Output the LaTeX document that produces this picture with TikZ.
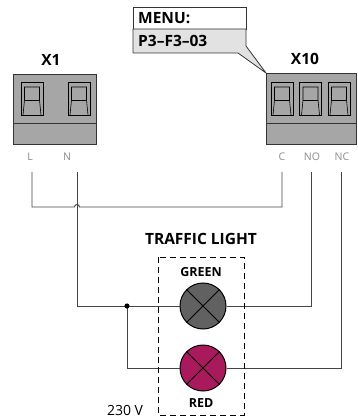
\documentclass[tikz,border=0pt]{standalone}
\usepackage{fontspec}
\setmainfont{Open Sans}
\definecolor{blockgray}{HTML}{A6A6A6}
\definecolor{wire}{HTML}{454545}
\definecolor{lampgray}{HTML}{616161}
\definecolor{lampred}{HTML}{A91A5C}
\definecolor{menugray}{HTML}{E2E2E2}
\definecolor{lbl}{HTML}{8A8A8A}
\tikzset{
  wireline/.style={draw=wire, line width=0.9pt},
  blockbox/.style={draw=black!80, fill=blockgray, line width=0.8pt},
  termbox/.style={draw=black, line width=0.8pt},
  lamp/.style={circle, draw=black, line width=1pt, minimum size=46pt, inner sep=0pt},
  head/.style={font=\bfseries\fontsize{15.5}{18}\selectfont, inner sep=0pt},
  small/.style={font=\bfseries\fontsize{12.5}{14}\selectfont, inner sep=0pt},
  pin/.style={font=\fontsize{10.5}{12}\selectfont, text=lbl, inner sep=0pt},
}
\newcommand{\myterm}[1]{%
  \draw[termbox] (#1,82) rectangle ++(22,33);
  \draw[black, line width=0.6pt] (#1+2,115) -- (#1+3.5,100) -- (#1+3.5,87) -- (#1+18.5,87) -- (#1+18.5,100) -- (#1+20,115);
  \draw[black, line width=0.6pt] (#1+3.5,100) -- (#1+18.5,100);
}
\begin{document}
\begin{tikzpicture}[x=1pt,y=-1pt]
\useasboundingbox (0,0) rectangle (357,419);
% X1 block
\draw[blockbox] (13,74) rectangle (96,144);
\draw[blockbox] (13,123) -- (96,123);
\myterm{21}
\myterm{68}
\node[head] (x1) at (51,60) {X1};
% X10 block
\draw[blockbox] (266,73) rectangle (356,144);
\draw[blockbox] (266,123) -- (356,123);
\myterm{271}
\myterm{299.5}
\myterm{328}
\node[head] (x10) at (305,59) {X10};
% menu
\draw[black!80, fill=white, line width=0.8pt] (133,7) rectangle (246,29);
\draw[black!80, fill=menugray, line width=0.8pt, line join=round] (133,29) -- (246,29) -- (246,46) -- (266,73) -- (238,53) -- (133,53) -- cycle;
\node[head, anchor=west] (menu) at (138,18) {MENU:};
\node[head, anchor=west] (code) at (138,41) {P3–F3–03};
% pin labels
\node[pin] (pL) at (30,157) {L};
\node[pin] (pN) at (67,157) {N};
\node[pin] (pC) at (282,157) {C};
\node[pin] (pNO) at (312,157) {NO};
\node[pin] (pNC) at (342,157) {NC};
% wire coordinates
\coordinate (Lt) at (32,172);
\coordinate (Lb) at (32,207);
\coordinate (Nt) at (77,172);
\coordinate (Nb) at (77,306);
\coordinate (Ct) at (282,172);
\coordinate (Cb) at (282,207);
\coordinate (NOt) at (311,172);
\coordinate (NOb) at (311,306);
\coordinate (NCt) at (341,172);
\coordinate (NCb) at (341,368);
\coordinate (hopL) at (74.5,207);
\coordinate (jn) at (127,306);
\coordinate (jnb) at (127,368);
% lamps
\node[lamp, fill=lampgray] (green) at (203,306) {};
\node[lamp, fill=lampred] (red) at (203,368) {};
\foreach \l in {green,red}{
  \draw[black, line width=1pt] (\l.45) -- (\l.225);
  \draw[black, line width=1pt] (\l.135) -- (\l.315);
}
% wires
\draw[wireline] (Lt) -- (Lb) -- (hopL) arc[start angle=180, end angle=0, radius=2.5pt] -- (Cb) -- (Ct);
\draw[wireline] (Nt) -- (Nb) -- (green.west);
\draw[wireline] (green.east) -- (NOb) -- (NOt);
\draw[wireline] (jn) -- (jnb) -- (red.west);
\draw[wireline] (red.east) -- (NCb) -- (NCt);
\fill[black] (jn) circle[radius=2.6pt];
% dashed box
\draw[black, line width=1pt, dash pattern=on 6pt off 4pt] (158,257) rectangle (244,415);
\node[head] (tl) at (201,239) {TRAFFIC LIGHT};
\node[small] (gl) at (201,272) {GREEN};
\node[small] (rl) at (201,403) {RED};
\node[font=\fontsize{14}{16}\selectfont, inner sep=0pt] (volt) at (125,410) {230 V};
\end{tikzpicture}
\end{document}
